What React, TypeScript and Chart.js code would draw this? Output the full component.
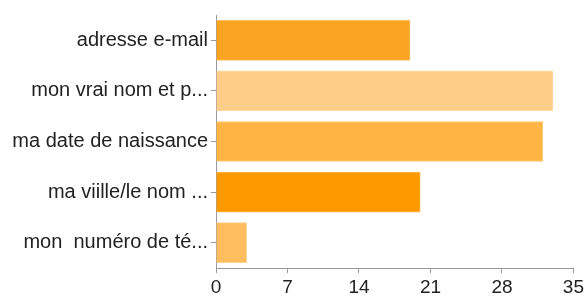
import React, { useEffect, useRef } from "react";
import { Chart, registerables } from "chart.js";

Chart.register(...registerables);

const categories = [
  "adresse e-mail",
  "mon vrai nom et p...",
  "ma date de naissance",
  "ma viille/le nom ...",
  "mon  numéro de té...",
];
const counts = [19, 33, 32, 20, 3];
const barColors = ["#fba422", "#fecd87", "#ffb443", "#fe9900", "#ffbd5e"];
const barEdgeColors = ["#fcc069", "#fedcab", "#ffc875", "#febb55", "#ffd08e"];
const xTickMax = 35;
const xTickStep = 7;

export default function App() {
  const ref = useRef<HTMLCanvasElement | null>(null);

  useEffect(() => {
    document.body.style.margin = "0";
    const canvas = ref.current;
    if (!canvas) return;
    const chart = new Chart(canvas, {
      type: "bar",
      data: {
        labels: categories,
        datasets: [
          {
            data: counts,
            backgroundColor: barColors,
            borderColor: barEdgeColors,
            borderWidth: 1,
            barThickness: 40,
          },
        ],
      },
      options: {
        indexAxis: "y",
        animation: false,
        responsive: false,
        maintainAspectRatio: false,
        layout: { padding: { top: 15, right: 12, left: 0, bottom: 0 } },
        plugins: {
          legend: { display: false },
          title: { display: false },
          tooltip: { enabled: false },
        },
        scales: {
          x: {
            type: "linear",
            min: 0,
            max: xTickMax,
            ticks: {
              stepSize: xTickStep,
              color: "#222",
              padding: 3,
              font: { family: "'Liberation Sans', Arial, sans-serif", size: 19 },
            },
            grid: {
              drawOnChartArea: false,
              drawTicks: true,
              tickLength: 5,
              color: "#9a9a9a",
            },
            border: { display: true, color: "#9a9a9a", width: 1 },
            afterFit: (scale: any) => {
              scale.height = 28;
            },
          },
          y: {
            type: "category",
            offset: true,
            ticks: {
              color: "#222",
              padding: 3,
              autoSkip: false,
              font: { family: "'Liberation Sans', Arial, sans-serif", size: 20 },
            },
            grid: {
              offset: false,
              drawOnChartArea: false,
              drawTicks: true,
              tickLength: 5,
              color: "#9a9a9a",
            },
            border: { display: true, color: "#9a9a9a", width: 1 },
            afterFit: (scale: any) => {
              scale.width = 216;
            },
          },
        },
      },
    });
    return () => chart.destroy();
  }, []);

  return (
    <div style={{ width: 587, height: 296 }}>
      <canvas ref={ref} width={587} height={296} style={{ display: "block" }} />
    </div>
  );
}
